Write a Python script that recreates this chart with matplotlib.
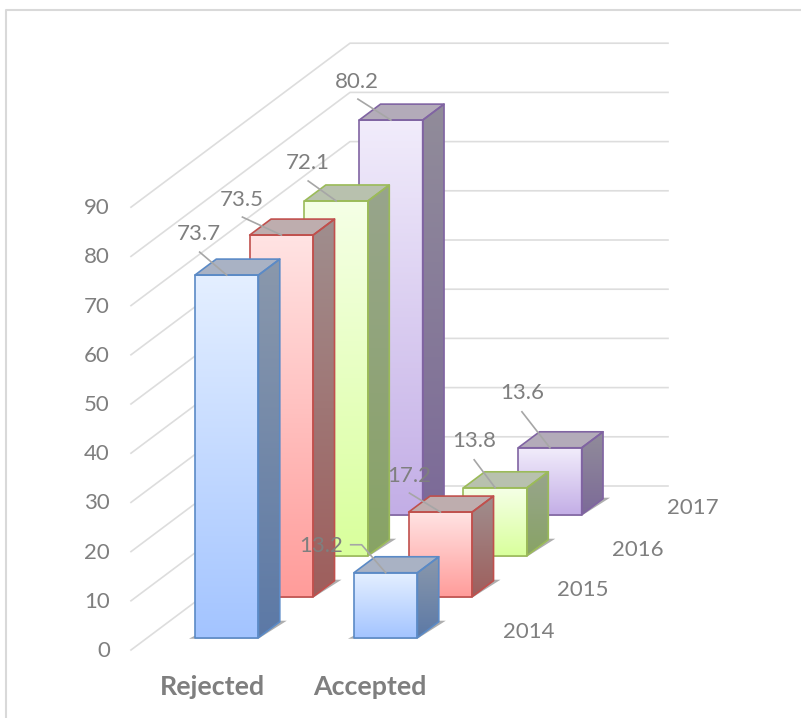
import numpy as np
import matplotlib
import matplotlib.pyplot as plt
from matplotlib.colors import LinearSegmentedColormap
from matplotlib.patches import Polygon

matplotlib.use('agg')
plt.rcParams['font.family'] = ['Lato', 'DejaVu Sans']

categories = ['Rejected', 'Accepted']
years = ['2014', '2015', '2016', '2017']
rejected = [73.7, 73.5, 72.1, 80.2]
accepted = [13.2, 17.2, 13.8, 13.6]
y_ticks = [0, 10, 20, 30, 40, 50, 60, 70, 80, 90]

# colours per year: edge, front (top, bottom), side (top, bottom), cap
edge_cols = ['#5B8AC6', '#C0504D', '#9BBB59', '#8064A2']
front_cols = [('#E4EFFF', '#A3C4FF'), ('#FFE3E3', '#FF9C9A'), ('#F5FFE6', '#D9FF9C'), ('#F1ECFB', '#C3AEE6')]
side_cols = [('#8A98AC', '#5C79A6'), ('#A08E8E', '#9E5E5C'), ('#98A58C', '#88A365'), ('#918C9A', '#7C6A98')]
cap_cols = ['#A9B2C4', '#BEADAE', '#B8C1AE', '#B3ABB9']

# label offset from bar's top centre, and where the leader starts
label_off = {
    'Rejected': [(-28, -41), (-40, -35), (-28, -38), (-34, -38)],
    'Accepted': [(-65, -27), (-31, -36), (-21, -47), (-28, -55)],
}
leader_off = {
    'Rejected': [(-27, -23), (-39, -18), (-28, -20), (-33, -21)],
    'Accepted': [(-35, -28), (-31, -19), (-21, -28), (-28, -36)],
}

# projection of the 3d box onto the picture, in pixels
X0, Y0 = 131, 650
UNIT = 4.92
CAT_W = 159
DEPTH_X, DEPTH_Y = 54.75, 41
BAR_W = 63.5
BAR_D = 0.39
GRID = '#DDDDDD'
TXT = '#7F7F7F'


def project(cat, depth, value):
    return X0 + cat * CAT_W + depth * DEPTH_X, Y0 - depth * DEPTH_Y - value * UNIT


def gradient_poly(ax, pts, c_top, c_bottom):
    pts = np.array(pts)
    cmap = LinearSegmentedColormap.from_list('g', [c_top, c_bottom])
    xa, xb = pts[:, 0].min(), pts[:, 0].max()
    ya, yb = pts[:, 1].min(), pts[:, 1].max()
    im = ax.imshow(np.linspace(0, 1, 128).reshape(-1, 1), cmap=cmap, aspect='auto',
                   extent=(xa, xb, yb, ya), zorder=ax.zo, interpolation='bilinear')
    im.set_clip_path(Polygon(pts, transform=ax.transData))
    ax.zo += 1


def flat_poly(ax, pts, color, alpha=1.0):
    ax.add_patch(Polygon(pts, closed=True, fc=color, ec='none', alpha=alpha, zorder=ax.zo))
    ax.zo += 1


def draw_bar(ax, cat, i, value):
    x0, y0 = project(cat, i + 0.3, 0)
    x0 += (CAT_W - 64) / 2
    dx, dy = BAR_D * DEPTH_X, BAR_D * DEPTH_Y
    h = value * UNIT
    x1 = x0 + BAR_W
    top = y0 - h

    # shadow on the floor
    flat_poly(ax, [(x0 - 6, y0 + 1), (x1, y0 + 1), (x1 + dx + 7, y0 - dy - 1), (x1 + dx, y0 - dy - 1), (x0, y0 - 2)],
              '#8C8C8C', 0.7)

    front = [(x0, y0), (x1, y0), (x1, top), (x0, top)]
    side = [(x1, y0), (x1 + dx, y0 - dy), (x1 + dx, top - dy), (x1, top)]
    cap = [(x0, top), (x1, top), (x1 + dx, top - dy), (x0 + dx, top - dy)]
    gradient_poly(ax, side, *side_cols[i])
    flat_poly(ax, cap, cap_cols[i])
    gradient_poly(ax, front, *front_cols[i])
    for pts in (side, cap, front):
        ax.add_patch(Polygon(pts, closed=True, fc='none', ec=edge_cols[i], lw=1.2, zorder=ax.zo, joinstyle='round'))
        ax.zo += 1
    return (x0 + x1) / 2, top


fig = plt.figure(figsize=(8.01, 7.18), dpi=100)
ax = fig.add_axes([0, 0, 1, 1])
ax.zo = 5
ax.set_xlim(0, 801)
ax.set_ylim(718, 0)
ax.axis('off')

# chart frame
ax.plot([6, 6, 800], [718, 10, 10], color='#D9D9D9', lw=1.5, zorder=1)

# walls
for v in y_ticks:
    xa, ya = project(0, 0, v)
    xb, yb = project(0, len(years), v)
    xc, yc = project(len(categories), len(years), v)
    ax.plot([xa, xb, xc], [ya, yb, yc], color=GRID, lw=1.2, zorder=2)
    ax.text(xa - 21, ya + 1, str(v), ha='right', va='center', fontsize=16, color=TXT)

for i, y in enumerate(years):
    x, yy = project(len(categories), i + 0.5, 0)
    ax.text(x + 52, yy + 2, y, ha='center', va='center', fontsize=16, color=TXT)

for c, name in enumerate(categories):
    x, yy = project(c, 0, 0)
    ax.text(x + 81 - c * 1, yy + 37, name, ha='center', va='center', fontsize=19.3, fontweight='bold', color=TXT)

# back to front, so nearer bars cover the ones behind
labels = []
for i in reversed(range(len(years))):
    for c, (name, vals) in enumerate(zip(categories, [rejected, accepted])):
        labels.append((name, i, vals[i], draw_bar(ax, c, i, vals[i])))

for name, i, v, (cx, top) in labels:
    lx, ly = label_off[name][i]
    sx, sy = leader_off[name][i]
    if name == 'Accepted' and i == 0:
        xs, ys = [cx + sx, cx + sx + 11, cx], [top + sy, top + sy, top]
    else:
        xs, ys = [cx + sx, cx], [top + sy, top]
    ax.plot(xs, ys, color='#A6A6A6', lw=1.2, zorder=500)
    ax.text(cx + lx, top + ly, str(v), ha='center', va='center', fontsize=16, color=TXT, zorder=501)

ax.set_xlim(0, 801)
ax.set_ylim(718, 0)
fig.savefig('out.png', dpi=100)
